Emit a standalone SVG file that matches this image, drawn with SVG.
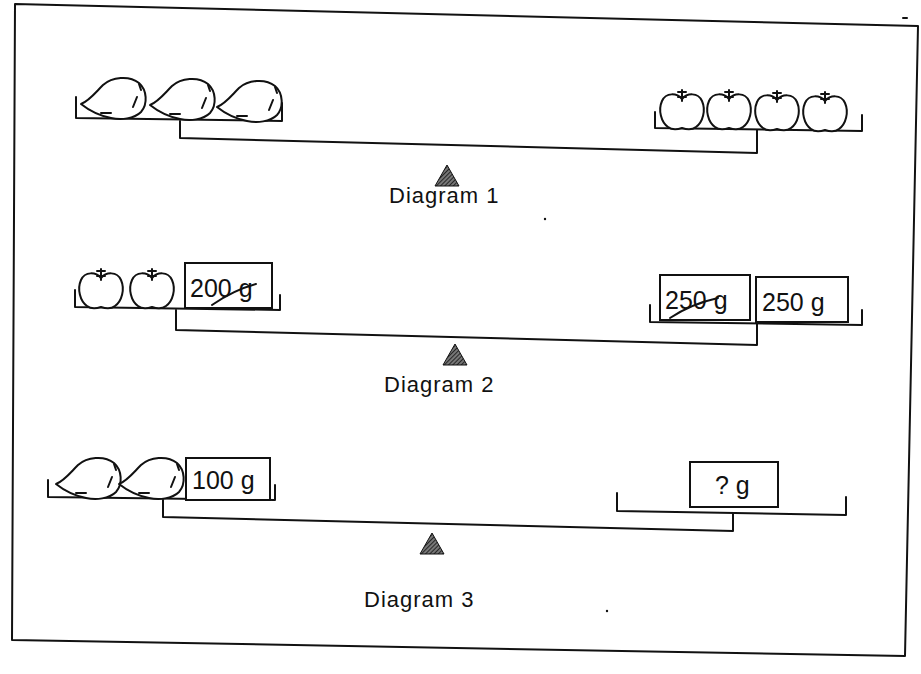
<svg xmlns="http://www.w3.org/2000/svg" width="921" height="674" viewBox="0 0 921 674">
  <style>
    .ink { fill: none; stroke: #111; stroke-width: 2; stroke-linecap: round; stroke-linejoin: round; }
    .fruit { fill: #fff; stroke: #111; stroke-width: 2; stroke-linejoin: round; }
    .box { fill: #fff; stroke: #111; stroke-width: 2; }
    .label { font-family: "Liberation Sans", Arial, sans-serif; font-size: 22px; fill: #111; letter-spacing: 1px; }
    .weight { font-family: "Liberation Sans", Arial, sans-serif; font-size: 25px; fill: #111; }
  </style>
  <defs>
    <pattern id="hatch" width="3" height="3" patternUnits="userSpaceOnUse" patternTransform="rotate(45)">
      <rect width="3" height="3" fill="#777"/>
      <line x1="0" y1="0" x2="0" y2="3" stroke="#111" stroke-width="1.6"/>
    </pattern>
    <!-- lying mango, pointed end on the left -->
    <g id="mango">
      <path class="fruit" d="M2,27 C10,24 16,16 24,8 C33,0 50,-2 60,6 C68,13 69,27 62,35 C55,42 42,43 32,41 C22,39 12,35 2,27 Z"/>
      <path class="ink" d="M22,36 L32,36 M58,20 L54,30 M60,7 L62,13"/>
    </g>
    <!-- apple with stem -->
    <g id="apple">
      <path class="fruit" d="M24,10 C19,4 8,3 4,12 C0,21 3,33 10,38 C15,42 21,40 24,39 C27,40 33,42 38,38 C45,33 48,21 44,12 C40,3 29,4 24,10 Z"/>
      <path class="ink" d="M24,12 L24,1 M20,3 L28,3 M20,8 L28,8"/>
    </g>
    <path id="fulcrum" d="M0,-18 L12,3 L-12,3 Z" fill="url(#hatch)" stroke="#111" stroke-width="1"/>
  </defs>

  <rect width="921" height="674" fill="#fff"/>

  <!-- page frame -->
  <g id="frame">
    <path class="ink" d="M15,4 L918,26 L905,656 L12,640 Z"/>
    <path class="ink" d="M903,18 L907,18"/>
    <circle cx="545" cy="219" r="1.2" fill="#111"/>
    <circle cx="607" cy="611" r="1.2" fill="#111"/>
  </g>

  <!-- balance 1 -->
  <g id="diagram1">
    <path class="ink" d="M76,97 L76,118 L282,121 L282,103"/>
    <use href="#mango" x="79" y="77"/>
    <use href="#mango" x="148" y="78"/>
    <use href="#mango" x="215" y="80"/>
    <path class="ink" d="M655,112 L655,128 L862,131 L862,115"/>
    <use href="#apple" x="658" y="89"/>
    <use href="#apple" x="705" y="89"/>
    <use href="#apple" x="753" y="90"/>
    <use href="#apple" x="801" y="91"/>
    <use href="#fulcrum" x="447" y="183"/>
    <text class="label" x="389" y="203">Diagram 1</text>
  </g>

  <!-- balance 2 -->
  <g id="diagram2">
    <path class="ink" d="M75,290 L75,307 L280,310 L280,295"/>
    <use href="#apple" x="77" y="268"/>
    <use href="#apple" x="128" y="268"/>
    <rect class="box" x="185" y="263" width="87" height="45"/>
    <text class="weight" x="190" y="297">200 g</text>
    <path class="ink" d="M212,305 C225,296 238,289 256,284"/>
    <path class="ink" d="M650,305 L650,322 L862,325 L862,310"/>
    <rect class="box" x="660" y="275" width="90" height="45"/>
    <text class="weight" x="665" y="309">250 g</text>
    <path class="ink" d="M670,318 C685,308 700,302 718,298"/>
    <rect class="box" x="756" y="277" width="92" height="45"/>
    <text class="weight" x="762" y="311">250 g</text>
    <use href="#fulcrum" x="455" y="362"/>
    <text class="label" x="384" y="392">Diagram 2</text>
  </g>

  <!-- balance 3 -->
  <g id="diagram3">
    <path class="ink" d="M48,480 L48,497 L275,500 L275,485"/>
    <use href="#mango" x="54" y="457"/>
    <use href="#mango" x="117" y="457"/>
    <rect class="box" x="186" y="458" width="84" height="42"/>
    <text class="weight" x="192" y="489">100 g</text>
    <path class="ink" d="M617,493 L617,511 L846,515 L846,497"/>
    <rect class="box" x="690" y="462" width="88" height="45"/>
    <text class="weight" x="715" y="494">? g</text>
    <use href="#fulcrum" x="432" y="551"/>
    <text class="label" x="364" y="607">Diagram 3</text>
  </g>

  <!-- beams and stems -->
  <g id="connectors">
    <path class="ink" d="M180,121 L180,138 L757,153 L757,130"/>
    <path class="ink" d="M176,310 L176,330 L757,345 L757,323"/>
    <path class="ink" d="M163,500 L163,517 L733,531 L733,513"/>
  </g>
</svg>
